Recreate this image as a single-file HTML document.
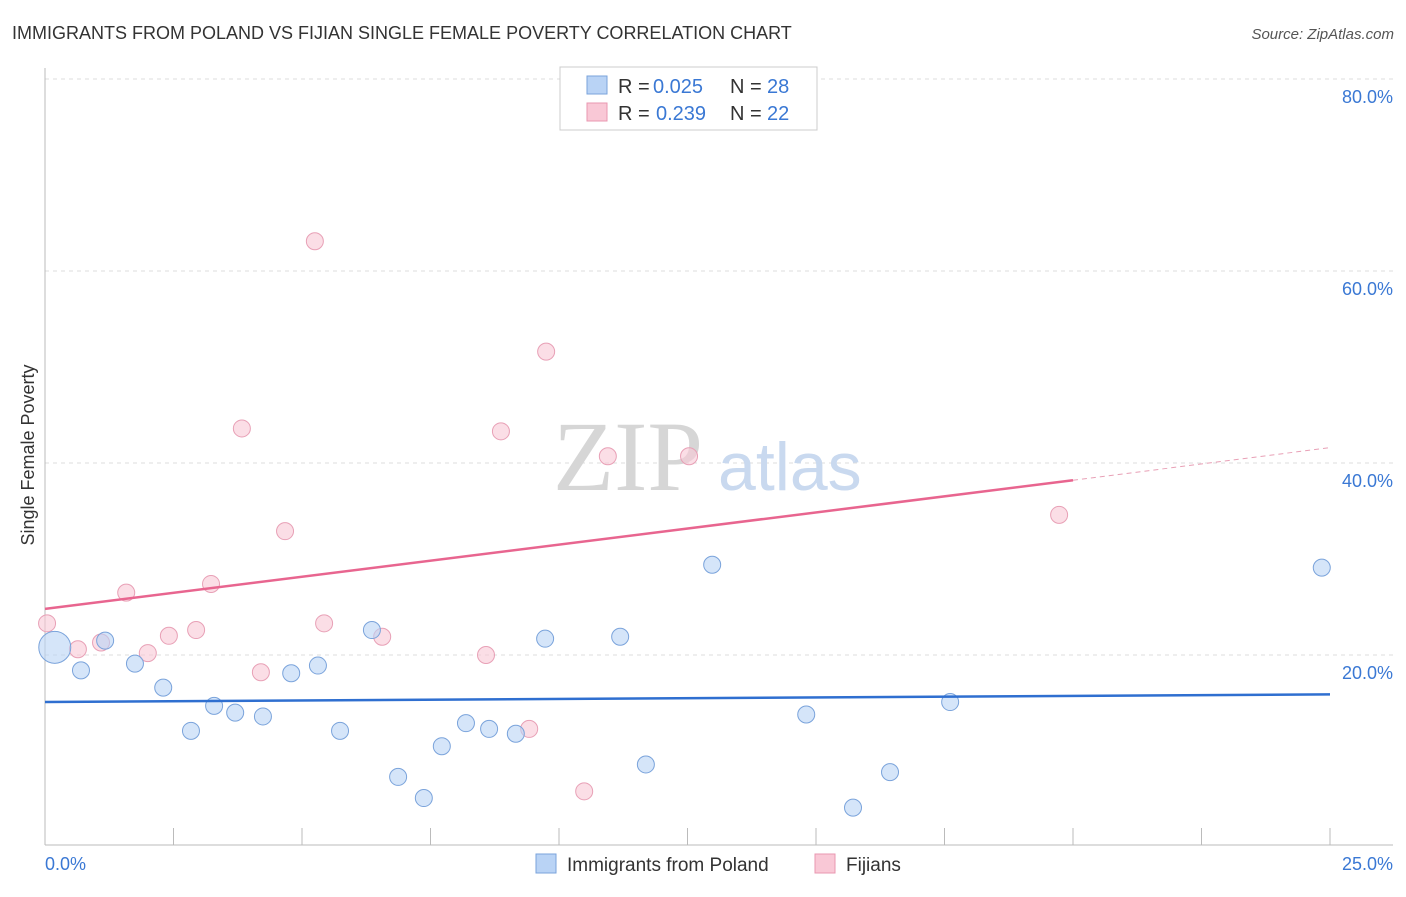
<!DOCTYPE html>
<html><head><meta charset="utf-8"><style>
body{margin:0;background:#fff;font-family:"Liberation Sans",sans-serif}
</style></head><body>
<svg id="chart" width="1406" height="892" xmlns="http://www.w3.org/2000/svg" font-family="Liberation Sans, sans-serif">
<text x="12" y="39" font-size="18" fill="#333">IMMIGRANTS FROM POLAND VS FIJIAN SINGLE FEMALE POVERTY CORRELATION CHART</text>
<text x="1394" y="39" font-size="15" fill="#555" text-anchor="end" font-style="italic">Source: ZipAtlas.com</text>
<text transform="translate(34,455) rotate(-90)" font-size="18" fill="#333" text-anchor="middle">Single Female Poverty</text>
<g id="grid"></g>
<text x="553" y="490" font-size="100" fill="#d6d6d6" style="font-family:'Liberation Serif',serif">ZIP</text>
<text x="718" y="490" font-size="68" fill="#c9d9ef">atlas</text>
<g id="marks"></g>
<rect x="560" y="67" width="257" height="63" fill="#fff" stroke="#ccc"/>
<rect x="587" y="76" width="20" height="18" fill="#b9d3f5" stroke="#7aa3db"/>
<text x="618" y="93" font-size="20" fill="#333">R =</text>
<text x="653" y="93" font-size="20" fill="#3a78d4">0.025</text>
<text x="730" y="93" font-size="20" fill="#333">N =</text>
<text x="767" y="93" font-size="20" fill="#3a78d4">28</text>
<rect x="587" y="103" width="20" height="18" fill="#f9c8d6" stroke="#e997b0"/>
<text x="618" y="120" font-size="20" fill="#333">R =</text>
<text x="656" y="120" font-size="20" fill="#3a78d4">0.239</text>
<text x="730" y="120" font-size="20" fill="#333">N =</text>
<text x="767" y="120" font-size="20" fill="#3a78d4">22</text>
<text x="45" y="870" font-size="18" fill="#3a78d4">0.0%</text>
<text x="1393" y="870" font-size="18" fill="#3a78d4" text-anchor="end">25.0%</text>
<rect x="536" y="854" width="20" height="19" fill="#b9d3f5" stroke="#7aa3db"/>
<text x="567" y="871" font-size="19" fill="#333">Immigrants from Poland</text>
<rect x="815" y="854" width="20" height="19" fill="#f9c8d6" stroke="#e997b0"/>
<text x="846" y="871" font-size="19" fill="#333">Fijians</text>
</svg>
<script>
const yTicks=[20,40,60,80];
const yTickLabels=["20.0%","40.0%","60.0%","80.0%"];
const polandX=[0.19,0.70,1.17,1.75,2.30,2.84,3.29,3.70,4.24,4.79,5.31,5.74,6.36,6.87,7.37,7.72,8.19,8.64,9.16,9.73,11.19,11.69,12.98,14.81,15.72,16.44,17.61,24.84];
const polandY=[20.8,18.4,21.5,19.1,16.6,12.1,14.7,14.0,13.6,18.1,18.9,12.1,22.6,7.3,5.1,10.5,12.9,12.3,11.8,21.7,21.9,8.6,29.4,13.8,4.1,7.8,15.1,29.1];
const fijiX=[0.04,0.64,1.09,1.58,2.00,2.41,2.94,3.23,3.83,4.20,4.67,5.25,5.43,6.56,8.58,8.87,9.42,9.75,10.49,10.95,12.53,19.73];
const fijiY=[23.3,20.6,21.3,26.5,20.2,22.0,22.6,27.4,43.6,18.2,32.9,63.1,23.3,21.9,20.0,43.3,12.3,51.6,5.8,40.7,40.7,34.6];
const polandTrend=[15.1,15.9];
const fijiTrend=[24.8,38.2,41.6];
const NS="http://www.w3.org/2000/svg";
const xs=v=>45+v/25*1285;
const ys=v=>847-v*9.6;
function mk(tag,attrs,parent){const e=document.createElementNS(NS,tag);for(const k in attrs)e.setAttribute(k,attrs[k]);parent.appendChild(e);return e;}
const grid=document.getElementById('grid'),marks=document.getElementById('marks');
yTicks.forEach((t,i)=>{
 let l=mk('line',{x1:45,x2:1393,y1:ys(t),y2:ys(t),stroke:'#ddd','stroke-dasharray':'4,4'},grid);
 
 
 let tx=mk('text',{x:1393,y:ys(t)+24,'font-size':18,fill:'#3a78d4','text-anchor':'end'},grid);
 tx.textContent=yTickLabels[i];
 
 
});
let ax=mk('line',{x1:45,x2:1393,y1:845,y2:845,stroke:'#bbb'},grid);


let ay=mk('line',{x1:45,x2:45,y1:68,y2:845,stroke:'#bbb'},grid);


for(let i=1;i<=10;i++){
 let t=mk('line',{x1:xs(i*2.5),x2:xs(i*2.5),y1:828,y2:845,stroke:'#bbb'},grid);
 
 
}
fijiX.forEach((x,i)=>{
 let c=mk('circle',{cx:xs(x),cy:ys(fijiY[i]),r:8.5,fill:'#f9c8d6','fill-opacity':0.6,stroke:'#e8a0b6'},marks);
 
 
});
polandX.forEach((x,i)=>{
 let c=mk('circle',{cx:xs(x),cy:ys(polandY[i]),r:i===0?16:8.5,fill:'#b9d3f5','fill-opacity':0.6,stroke:'#7aa3db'},marks);
 
 
});
let pl=mk('line',{x1:xs(0),y1:ys(polandTrend[0]),x2:xs(25),y2:ys(polandTrend[1]),stroke:'#2f6fd0','stroke-width':2.5},marks);


let fl=mk('line',{x1:xs(0),y1:ys(fijiTrend[0]),x2:xs(20),y2:ys(fijiTrend[1]),stroke:'#e8658f','stroke-width':2.5},marks);


let fd=mk('line',{x1:xs(20),y1:ys(fijiTrend[1]),x2:xs(25),y2:ys(fijiTrend[2]),stroke:'#e8a0b6','stroke-width':1,'stroke-dasharray':'5,4'},marks);


</script>
</body></html>
